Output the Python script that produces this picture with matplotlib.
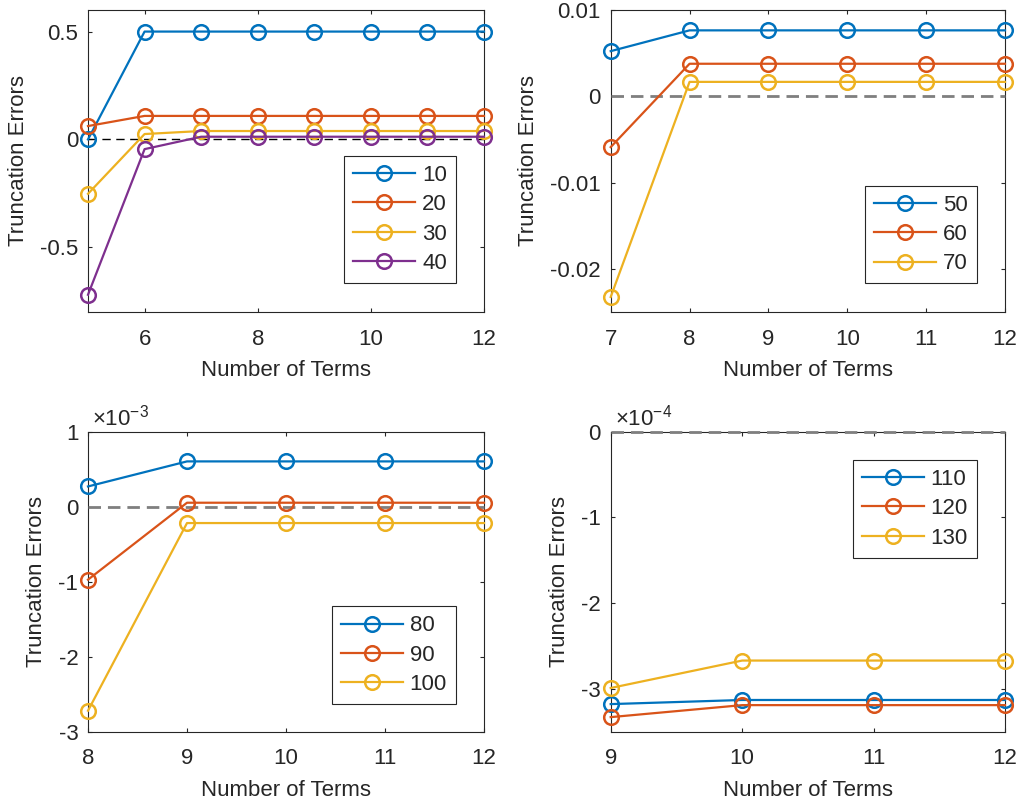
import numpy as np
import matplotlib
matplotlib.use("Agg")
import matplotlib.pyplot as plt
from matplotlib.ticker import FuncFormatter

plt.rcParams['font.family'] = ['Liberation Sans', 'DejaVu Sans']
plt.rcParams['mathtext.fontset'] = 'custom'
plt.rcParams['mathtext.rm'] = 'Liberation Sans'
plt.rcParams['mathtext.default'] = 'regular'
plt.rcParams['axes.unicode_minus'] = False

# MATLAB default line colours
blue = '#0072BD'
orange = '#D95319'
yellow = '#EDB120'
purple = '#7E2F8E'
ink = '#262626'

# Panel 1: N = 10..40
x1 = [5, 6, 7, 8, 9, 10, 11, 12]
e10 = [0.0, 0.5, 0.5, 0.5, 0.5, 0.5, 0.5, 0.5]
e20 = [0.062, 0.109, 0.109, 0.109, 0.109, 0.109, 0.109, 0.109]
e30 = [-0.252, 0.025, 0.039, 0.039, 0.039, 0.039, 0.039, 0.039]
e40 = [-0.72, -0.045, 0.0125, 0.0125, 0.0125, 0.0125, 0.0125, 0.0125]

# Panel 2: N = 50..70
x2 = [7, 8, 9, 10, 11, 12]
e50 = [0.00523, 0.00764, 0.00764, 0.00764, 0.00764, 0.00764]
e60 = [-0.00589, 0.00377, 0.00377, 0.00377, 0.00377, 0.00377]
e70 = [-0.02326, 0.00167, 0.00167, 0.00167, 0.00167, 0.00167]

# Panel 3: N = 80..100
x3 = [8, 9, 10, 11, 12]
e80 = [0.27e-3, 0.604e-3, 0.604e-3, 0.604e-3, 0.604e-3]
e90 = [-0.973e-3, 0.053e-3, 0.053e-3, 0.053e-3, 0.053e-3]
e100 = [-2.72e-3, -0.218e-3, -0.218e-3, -0.218e-3, -0.218e-3]

# Panel 4: N = 110..130
x4 = [9, 10, 11, 12]
e110 = [-3.178e-4, -3.13e-4, -3.13e-4, -3.13e-4]
e120 = [-3.33e-4, -3.19e-4, -3.19e-4, -3.19e-4]
e130 = [-2.99e-4, -2.67e-4, -2.67e-4, -2.67e-4]

W, H = 1021, 805
fig = plt.figure(figsize=(W / 100, H / 100), dpi=100)


def px_axes(left, top, right, bottom):
    return fig.add_axes([left / W, 1 - bottom / H, (right - left) / W, (bottom - top) / H])


gray_dash = dict(color='#7f7f7f', lw=2.0, dashes=(4.5, 2.5))
panels = [
    dict(box=(88, 10, 484, 312), x=x1, series=[e10, e20, e30, e40],
         labels=['10', '20', '30', '40'], colors=[blue, orange, yellow, purple],
         xlim=(5, 12), xticks=[6, 8, 10, 12], ylim=(-0.8, 0.6), yticks=[-0.5, 0, 0.5],
         scale=1, exp=None, zero=dict(color='k', lw=1.0, dashes=(6, 4)),
         leg=dict(loc='lower right', anchor=(0.929, 0.096))),
    dict(box=(610.7, 10, 1005, 312), x=x2, series=[e50, e60, e70],
         labels=['50', '60', '70'], colors=[blue, orange, yellow],
         xlim=(7, 12), xticks=[7, 8, 9, 10, 11, 12], ylim=(-0.025, 0.01),
         yticks=[-0.02, -0.01, 0, 0.01],
         scale=1, exp=None, zero=gray_dash,
         leg=dict(loc='lower right', anchor=(0.928, 0.095))),
    dict(box=(88, 431.7, 484, 731.7), x=x3, series=[e80, e90, e100],
         labels=['80', '90', '100'], colors=[blue, orange, yellow],
         xlim=(8, 12), xticks=[8, 9, 10, 11, 12], ylim=(-3e-3, 1e-3),
         yticks=[-3e-3, -2e-3, -1e-3, 0, 1e-3],
         scale=1e-3, exp='-3', zero=gray_dash,
         leg=dict(loc='lower right', anchor=(0.929, 0.092))),
    dict(box=(610.7, 431.7, 1005, 731.7), x=x4, series=[e110, e120, e130],
         labels=['110', '120', '130'], colors=[blue, orange, yellow],
         xlim=(9, 12), xticks=[9, 10, 11, 12], ylim=(-3.5e-4, 0),
         yticks=[-3e-4, -2e-4, -1e-4, 0],
         scale=1e-4, exp='-4', zero=gray_dash,
         leg=dict(loc='upper right', anchor=(0.928, 0.906))),
]

fs = 16

for p in panels:
    ax = px_axes(*p['box'])
    z = p['zero']
    ax.plot(p['xlim'], [0, 0], color=z['color'], lw=z['lw'], dashes=z['dashes'],
            clip_on=False, zorder=2.6)
    for ys, lab, c in zip(p['series'], p['labels'], p['colors']):
        ax.plot(p['x'], ys, '-o', color=c, lw=1.6, ms=10.5, mew=1.8,
                mfc='none', label=lab, clip_on=False, zorder=3)

    ax.set_xlim(*p['xlim'])
    ax.set_ylim(*p['ylim'])
    ax.set_xticks(p['xticks'])
    ax.set_yticks(p['yticks'])
    sc = p['scale']
    ax.yaxis.set_major_formatter(FuncFormatter(lambda v, pos, sc=sc: f"{round(v / sc, 6):g}"))

    for s in ax.spines.values():
        s.set_color(ink)
        s.set_linewidth(0.8)
    ax.tick_params(direction='in', top=True, right=True, length=2.8, width=0.8,
                   colors=ink, labelsize=fs)
    ax.tick_params(axis='x', pad=12)
    ax.tick_params(axis='y', pad=7)

    ax.set_xlabel('Number of Terms', fontsize=fs, color=ink, labelpad=7.5)
    ax.set_ylabel('Truncation Errors', fontsize=fs, color=ink, labelpad=8)

    if p['exp']:
        ax.text(0.01, 1.022, r'×10$^{' + p['exp'] + '}$', transform=ax.transAxes,
                fontsize=fs, color=ink, ha='left', va='baseline')

    leg = ax.legend(loc=p['leg']['loc'], bbox_to_anchor=p['leg']['anchor'],
                    fontsize=fs, frameon=True, fancybox=False, framealpha=1,
                    edgecolor=ink, borderaxespad=0, handlelength=2.8,
                    handletextpad=0.3, labelspacing=0.38, borderpad=0.4)
    leg.get_frame().set_linewidth(0.8)
    for t in leg.get_texts():
        t.set_color(ink)

fig.savefig('out.png', dpi=100)
